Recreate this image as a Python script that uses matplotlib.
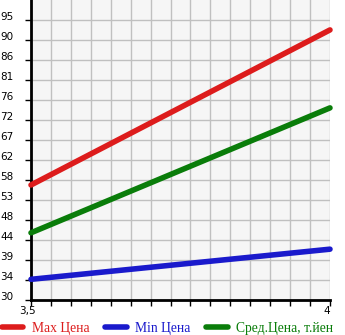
import matplotlib
matplotlib.use("Agg")
import matplotlib.pyplot as plt
from matplotlib.lines import Line2D
import matplotlib.transforms as mtransforms

x_vals = [3.5, 4.0]
max_price = [56.7, 92.7]
min_price = [34.8, 41.8]
avg_price = [45.6, 74.6]
series_names = ["Max Цена", "Min Цена", "Сред.Цена, т.йен"]
series_colors = ["#dd1c1c", "#1a1acc", "#0a7d0a"]
ytick_labels = ["30", "34", "39", "44", "48", "53", "58", "62", "67", "72",
                "76", "81", "86", "90", "95"]
xtick_labels = ["3,5", "4"]

W, H = 345, 335
fig = plt.figure(figsize=(W / 100, H / 100), dpi=100)
ax = fig.add_axes([31 / W, 1 - 300 / H, 299 / W, 300 / H])
ax.set_facecolor("#f6f6f6")

ystep = (95 - 30) / 14
ymin, ymax = 30, 30 + 15 * ystep
ax.set_xlim(3.5, 4.0)
ax.set_ylim(ymin, ymax)

yt = [ymin + i * ystep for i in range(len(ytick_labels))]
ax.set_yticks(yt)
ax.set_yticklabels([])
xt_minor = [3.5 + i / 30 for i in range(16)]
ax.set_xticks(xt_minor)
ax.set_xticklabels([])
ax.grid(True, color="#c0c0c0", linewidth=1.0)
ax.set_axisbelow(True)

ax.tick_params(axis="both", length=4, width=1, color="black", direction="out")
for s in ["top", "right"]:
    ax.spines[s].set_visible(False)
for s in ["left", "bottom"]:
    ax.spines[s].set_linewidth(2)
    ax.spines[s].set_color("black")

# y labels, slightly above tick, flush at the left edge of the figure
off = mtransforms.ScaledTranslation(0, 3 / 100, fig.dpi_scale_trans)
for v, lab in zip(yt, ytick_labels):
    ax.text(-31 / 299, v, lab, transform=ax.get_yaxis_transform() + off,
            ha="left", va="center", fontsize=7.5, family="DejaVu Sans")
# x labels
offx = mtransforms.ScaledTranslation(-4 / 100, 0, fig.dpi_scale_trans)
ax.text(3.5, -0.02, xtick_labels[0], transform=ax.get_xaxis_transform() + offx,
        ha="center", va="top", fontsize=7.5, family="DejaVu Sans")
ax.text(4.0, -0.02, xtick_labels[1], transform=ax.get_xaxis_transform(),
        ha="right", va="top", fontsize=7.5, family="DejaVu Sans")

for ys, c in zip([max_price, min_price, avg_price], series_colors):
    ax.plot(x_vals, ys, color=c, linewidth=4, solid_capstyle="round", clip_on=False, zorder=5)

# legend
handles = [Line2D([0], [0], color=c, linewidth=4, solid_capstyle="round") for c in series_colors]
leg = fig.legend(handles, series_names, loc="lower left", bbox_to_anchor=(-0.003, -0.008),
                 ncol=3, frameon=False, handlelength=1.6, handletextpad=0.6,
                 columnspacing=1.15, prop={"family": "Liberation Serif", "size": 9.8},
                 borderaxespad=0, borderpad=0.2)
for t, c in zip(leg.get_texts(), series_colors):
    t.set_color(c)

fig.savefig("out.png", dpi=100)
